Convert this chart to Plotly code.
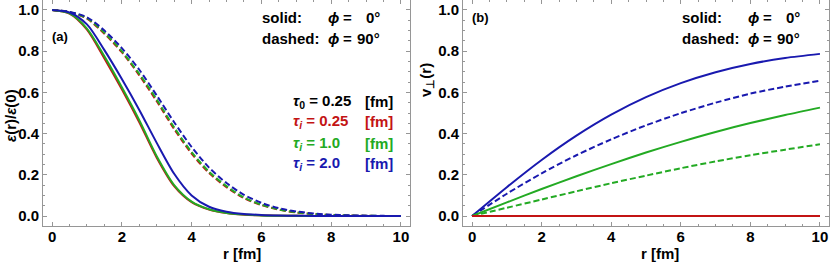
import plotly.graph_objects as go

# ---------------- data ----------------
r_eps = [0, 0.5, 1, 1.5, 2, 2.5, 3, 3.5, 4, 4.5, 5, 5.5, 6, 6.5, 7, 7.5, 8, 8.5, 9, 9.5, 10]

eps_solid_red = [1.0, 0.983, 0.905, 0.765, 0.615, 0.455, 0.283, 0.145, 0.067, 0.031, 0.014, 0.006, 0.003, 0.0014, 0.0007, 0.0003, 0.0001, 0, 0, 0, 0]
eps_solid_green = [1.0, 0.984, 0.91, 0.775, 0.625, 0.465, 0.29, 0.15, 0.07, 0.033, 0.015, 0.007, 0.003, 0.0015, 0.0008, 0.0004, 0.0002, 0.0001, 0, 0, 0]
eps_solid_blue = [1.0, 0.988, 0.93, 0.805, 0.665, 0.515, 0.355, 0.205, 0.1, 0.045, 0.021, 0.01, 0.005, 0.0025, 0.0012, 0.0006, 0.0003, 0.0001, 0, 0, 0]
eps_dashed_red = [1.0, 0.99, 0.958, 0.885, 0.795, 0.683, 0.557, 0.422, 0.303, 0.209, 0.14, 0.087, 0.053, 0.031, 0.017, 0.009, 0.0045, 0.0022, 0.001, 0.0004, 0.0002]
eps_dashed_green = [1.0, 0.99, 0.96, 0.89, 0.80, 0.69, 0.565, 0.43, 0.31, 0.215, 0.145, 0.09, 0.055, 0.032, 0.018, 0.01, 0.005, 0.0025, 0.0012, 0.0005, 0.0002]
eps_dashed_blue = [1.0, 0.991, 0.965, 0.9, 0.815, 0.71, 0.585, 0.455, 0.335, 0.235, 0.16, 0.103, 0.064, 0.038, 0.022, 0.012, 0.0065, 0.0033, 0.0016, 0.0007, 0.0003]

r_v = [0, 1, 2, 3, 4, 5, 6, 7, 8, 9, 10]
v_solid_red = [0, 0, 0, 0, 0, 0, 0, 0, 0, 0, 0]
v_solid_green = [0, 0.066, 0.131, 0.193, 0.252, 0.308, 0.36, 0.408, 0.451, 0.49, 0.526]
v_solid_blue = [0, 0.14, 0.272, 0.39, 0.492, 0.577, 0.645, 0.698, 0.738, 0.767, 0.787]
v_dashed_red = [0, 0, 0, 0, 0, 0, 0, 0, 0, 0, 0]
v_dashed_green = [0, 0.04, 0.08, 0.12, 0.159, 0.196, 0.232, 0.265, 0.295, 0.322, 0.348]
v_dashed_blue = [0, 0.108, 0.207, 0.295, 0.372, 0.44, 0.499, 0.55, 0.594, 0.628, 0.657]

x_ticks = [0, 2, 4, 6, 8, 10]
y_ticks = [0.0, 0.2, 0.4, 0.6, 0.8, 1.0]

# ---------------- style ----------------
RED = "rgb(195,20,20)"
GREEN = "rgb(35,170,35)"
BLUE = "rgb(25,25,175)"
FRAME = "rgb(150,150,150)"
FONT = "Liberation Sans"
W, H = 830, 265
PLOT_BOTTOM = 226  # pixel row of the bottom frame

fig = go.Figure()

def add(x, y, color, dashed, xa, ya):
    fig.add_trace(go.Scatter(
        x=x, y=y, mode="lines", xaxis=xa, yaxis=ya, showlegend=False,
        line=dict(color=color, width=2, shape="spline", smoothing=0.8,
                  dash="6px,3px" if dashed else "solid"),
        hoverinfo="skip"))

# panel (a)
add(r_eps, eps_dashed_red, RED, True, "x", "y")
add(r_eps, eps_dashed_green, GREEN, True, "x", "y")
add(r_eps, eps_dashed_blue, BLUE, True, "x", "y")
add(r_eps, eps_solid_red, RED, False, "x", "y")
add(r_eps, eps_solid_green, GREEN, False, "x", "y")
add(r_eps, eps_solid_blue, BLUE, False, "x", "y")

# panel (b)
add(r_v, v_dashed_blue, BLUE, True, "x2", "y2")
add(r_v, v_solid_blue, BLUE, False, "x2", "y2")
add(r_v, v_dashed_green, GREEN, True, "x2", "y2")
add(r_v, v_solid_green, GREEN, False, "x2", "y2")
add(r_v, v_dashed_red, RED, True, "x2", "y2")
add(r_v, v_solid_red, RED, False, "x2", "y2")

tickfont = dict(family=FONT, size=15, color="black", weight="bold")

def xaxis(domain):
    return dict(domain=domain, range=[-0.26, 10.26], tickvals=x_ticks,
                ticktext=[str(t) for t in x_ticks], showgrid=False, zeroline=False,
                showline=True, linecolor=FRAME, linewidth=1, mirror="ticks",
                ticks="inside", ticklen=4, tickcolor=FRAME, tickwidth=1,
                ticklabelstandoff=-3,
                minor=dict(dtick=0.5, tick0=0, ticks="inside", ticklen=2, tickcolor=FRAME),
                tickfont=tickfont)

def yaxis(anchor):
    return dict(anchor=anchor, domain=[0, 1], range=[-0.0485, 1.0485], tickvals=y_ticks,
                ticktext=["%.1f" % t for t in y_ticks], showgrid=False, zeroline=False,
                showline=True, linecolor=FRAME, linewidth=1, mirror="ticks",
                ticks="inside", ticklen=4, tickcolor=FRAME, tickwidth=1,
                minor=dict(dtick=0.05, tick0=0, ticks="inside", ticklen=2, tickcolor=FRAME),
                tickfont=tickfont)

fig.update_layout(
    width=W, height=H,
    margin=dict(l=0, r=0, t=0, b=H - PLOT_BOTTOM),
    paper_bgcolor="white", plot_bgcolor="white",
    xaxis=dict(xaxis([43 / W, 410 / W]), anchor="y"),
    yaxis=yaxis("x"),
    xaxis2=dict(xaxis([463 / W, 829 / W]), anchor="y2"),
    yaxis2=yaxis("x2"),
)

def px(x):
    return x / W

def py(y):
    return (PLOT_BOTTOM - y) / PLOT_BOTTOM

def note(text, x, y, xanchor="left", color="black", size=15, angle=0):
    fig.add_annotation(text=text, x=px(x), y=py(y), xref="paper", yref="paper",
                       xanchor=xanchor, yanchor="middle", showarrow=False, textangle=angle,
                       borderpad=0, borderwidth=0,
                       font=dict(family=FONT, size=size, color=color, weight="bold"))

# axis titles
note("r [fm]", 242, 253, xanchor="center")
note("r [fm]", 660, 253, xanchor="center")
note("<i>ε</i>(r)/<i>ε</i>(0)", 10, 116, xanchor="center", angle=-90)
note("v<sub>⊥</sub>(r)", 426, 80, xanchor="center", angle=-90)

# panel labels
note("(a)", 52, 36, size=13)
note("(b)", 472, 17, size=13)

# phi legends
for dx in (0, 420):
    note("solid:", 262 + dx, 17)
    note("<i>ϕ</i>", 328 + dx, 17)
    note("=", 343 + dx, 17)
    note("0°", 380 + dx, 17, xanchor="right")
    note("dashed:", 262 + dx, 38)
    note("<i>ϕ</i>", 328 + dx, 38)
    note("=", 343 + dx, 38)
    note("90°", 380 + dx, 38, xanchor="right")

# tau legend
tau_rows = [
    ("<i>τ</i><sub>0</sub> = 0.25", "black", 101),
    ("<i>τ</i><sub><i>i</i></sub> = 0.25", RED, 122),
    ("<i>τ</i><sub><i>i</i></sub> = 1.0", GREEN, 143),
    ("<i>τ</i><sub><i>i</i></sub> = 2.0", BLUE, 163),
]
for txt, col, yy in tau_rows:
    note(txt, 293, yy, color=col)
    note("[fm]", 393, yy, xanchor="right", color=col)

fig.write_html("out.html", config={"displayModeBar": False},
               post_script="document.body.style.margin='0';document.body.style.overflow='hidden';")
